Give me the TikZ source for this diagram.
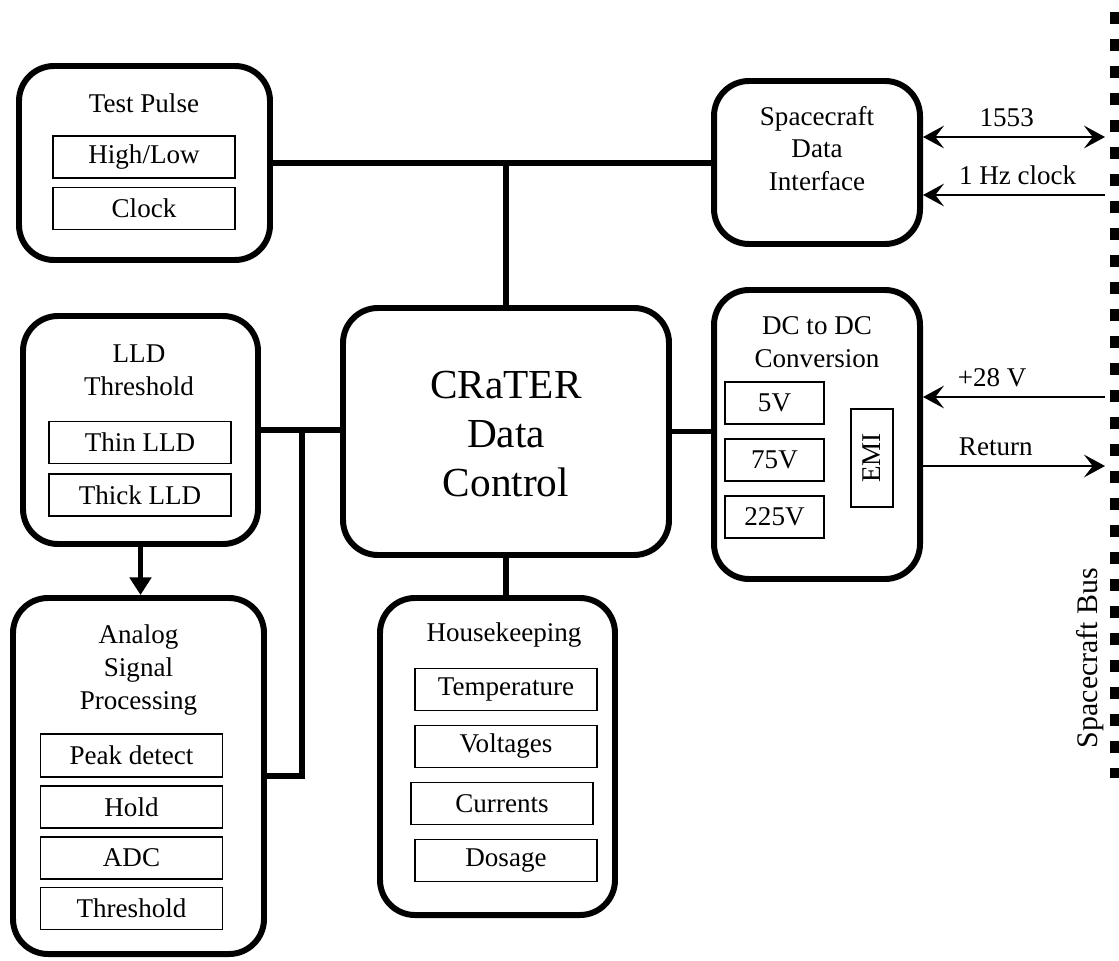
\documentclass[tikz,border=0pt]{standalone}
\usepackage{fontspec}
\setmainfont{Liberation Serif}
\usetikzlibrary{positioning, arrows.meta}
\tikzset{Block/.style={%
    shape=rectangle,%
    draw=black,%
    rounded corners=0.7cm,%
    line width=3.4pt,%
    inner sep=0pt,%
}}
\tikzset{SubBlock/.style={%
    shape=rectangle,%
    draw=black,%
    line width=0.8pt,%
    minimum width=3.64cm,%
    minimum height=0.84cm,%
    inner sep=0pt,%
    font=\fontsize{15.4}{18.7}\selectfont,%
}}
\tikzset{Title/.style={%
    align=center,%
    inner sep=0pt,%
    font=\fontsize{15.4}{18.7}\selectfont,%
}}
\tikzset{Link/.style={%
    line width=3.4pt,%
}}
\tikzset{LinkArrow/.style={%
    line width=3.4pt,%
    -{Triangle[length=10pt, width=12pt]},%
}}
\tikzset{Signal/.style={%
    line width=0.9pt,%
    -{Stealth[length=12pt, width=13pt, inset=5pt]},%
}}
\tikzset{SignalBoth/.style={%
    line width=0.9pt,%
    {Stealth[length=12pt, width=13pt, inset=5pt]}-{Stealth[length=12pt, width=13pt, inset=5pt]},%
}}
\newcommand{\busLabel}[1]{\fontsize{15.4}{18.7}\selectfont #1}

\begin{document}
\begin{tikzpicture}
    \useasboundingbox (0,0) rectangle (22.38,-19.2);

    \node[Block, minimum width=5.02cm, minimum height=3.88cm] (tp) at (2.89,-3.26) {};
    \node[Title] (tpTitle) at (2.88,-2.06) {Test Pulse};
    \node[SubBlock] (tpHL) at (2.88,-3.14) {High/Low};
    \node[SubBlock, below=0.16cm of tpHL] (tpCK) {Clock};

    \node[Block, minimum width=4.12cm, minimum height=3.26cm] (sdi) at (16.34,-3.25) {};
    \node[Title] (sdiTitle) at (16.34,-2.97) {Spacecraft\\Data\\Interface};

    \node[Block, minimum width=6.52cm, minimum height=4.94cm] (ctl) at (10.12,-8.63) {};
    \node[Title, font=\fontsize{23.5}{28}\selectfont] (ctlTitle) at (10.12,-8.68) {CRaTER\\Data\\Control};

    \node[Block, minimum width=4.12cm, minimum height=5.78cm] (dc) at (16.34,-8.69) {};
    \node[Title] (dcTitle) at (16.34,-6.85) {DC to DC\\Conversion};
    \node[SubBlock, minimum width=1.98cm] (dc5) at (15.49,-8.06) {5V};
    \node[SubBlock, minimum width=1.98cm, below=0.27cm of dc5] (dc75) {75V};
    \node[SubBlock, minimum width=1.98cm, below=0.27cm of dc75] (dc225) {225V};
    \node[SubBlock, minimum width=1.96cm, rotate=90] (emi) at (17.44,-9.16) {EMI};

    \node[Block, minimum width=4.70cm, minimum height=4.56cm] (lld) at (2.81,-8.60) {};
    \node[Title] (lldTitle) at (2.78,-7.41) {LLD\\Threshold};
    \node[SubBlock] (lldThin) at (2.80,-8.85) {Thin LLD};
    \node[SubBlock, below=0.18cm of lldThin] (lldThick) {Thick LLD};

    \node[Block, minimum width=5.02cm, minimum height=7.12cm] (asp) at (2.77,-15.52) {};
    \node[Title] (aspTitle) at (2.77,-13.40) {Analog\\Signal\\Processing};
    \node[SubBlock, minimum height=0.86cm] (aspPk) at (2.63,-15.11) {Peak detect};
    \node[SubBlock, below=0.15cm of aspPk] (aspHd) {Hold};
    \node[SubBlock, below=0.15cm of aspHd] (aspAdc) {ADC};
    \node[SubBlock, below=0.15cm of aspAdc] (aspTh) {Threshold};

    \node[Block, minimum width=4.70cm, minimum height=6.34cm] (hk) at (9.95,-15.13) {};
    \node[Title] (hkTitle) at (10.08,-12.70) {Housekeeping};
    \node[SubBlock] (hkTmp) at (10.12,-13.79) {Temperature};
    \node[SubBlock, below=0.27cm of hkTmp] (hkVlt) {Voltages};
    \node[SubBlock, below=0.27cm of hkVlt, xshift=-0.08cm] (hkCur) {Currents};
    \node[SubBlock, below=0.27cm of hkCur, xshift=0.08cm] (hkDos) {Dosage};

    \draw[line width=0.2cm, dash pattern=on 0.24cm off 0.30cm] (22.30,-0.24) -- (22.30,-15.56);
    \node[Title, font=\fontsize{17}{20}\selectfont, rotate=90] (busName) at (21.80,-13.16) {Spacecraft Bus};

    \coordinate (bus1553) at (22.10,-2.74);
    \coordinate (busClk) at (22.10,-3.90);
    \coordinate (busPwr) at (22.10,-7.94);
    \coordinate (busRet) at (22.10,-9.32);
    \coordinate (jLeft) at (6.04,-8.60);

    \draw[Link] (tp.east) -- (tp.east -| sdi.west);
    \draw[Link] (ctl.north) -- (ctl.north |- tp.east);
    \draw[Link] (lld.east) -- (lld.east -| ctl.west);
    \draw[Link] (jLeft) |- (asp.east);
    \draw[Link] (ctl.east) -- (ctl.east -| dc.west);
    \draw[Link] (ctl.south) -- (ctl.south |- hk.north);
    \draw[LinkArrow] (lld.south) -- (lld.south |- asp.north);

    \draw[SignalBoth] (bus1553 -| sdi.east) -- node[above=2pt, pos=0.46]{\busLabel{1553}} (bus1553);
    \draw[Signal] (busClk) -- node[above=2pt, pos=0.48]{\busLabel{1 Hz clock}} (busClk -| sdi.east);
    \draw[Signal] (busPwr) -- node[above=2pt, pos=0.62]{\busLabel{+28 V}} (busPwr -| dc.east);
    \draw[Signal] (busRet -| dc.east) -- node[above=2pt, pos=0.40]{\busLabel{Return}} (busRet);
\end{tikzpicture}
\end{document}
